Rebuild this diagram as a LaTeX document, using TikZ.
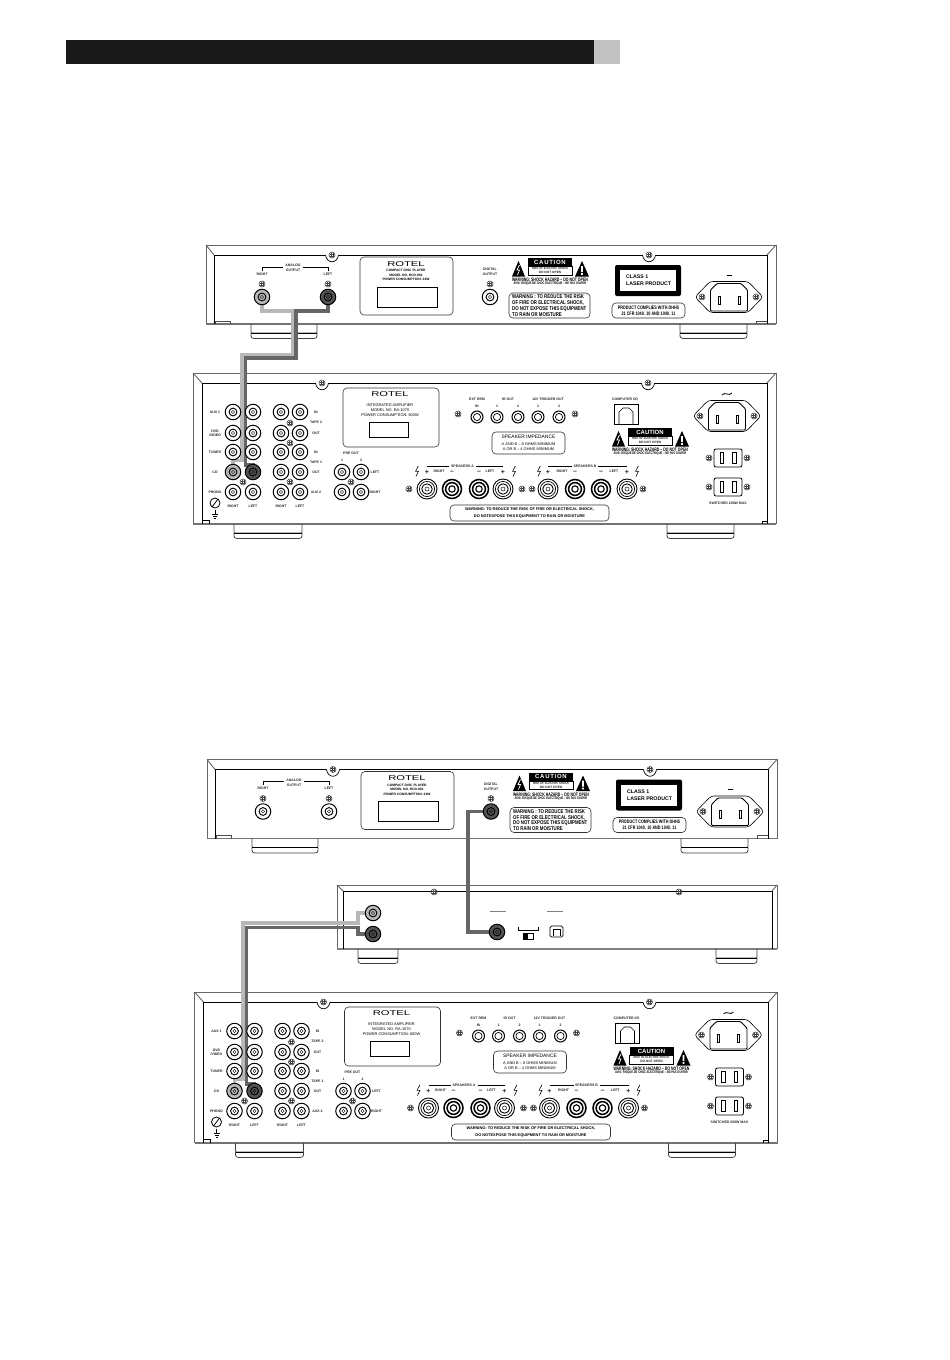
\documentclass[tikz,border=0pt]{standalone}
\usepackage{fontspec}
\usepackage{graphicx}
\setmainfont{Liberation Sans}
\usetikzlibrary{positioning}
\pgfdeclarelayer{jacks}
\pgfsetlayers{main,jacks}
\newcounter{lbl}
\newcommand{\nar}[2][.72]{\scalebox{#1}[1]{#2}}

\tikzset{
panelouter/.style={draw=black!60,line width=.9pt},
panelinner/.style={draw=black,line width=.7pt},
plate/.style={draw=black!80,line width=.6pt,rounded corners=4pt},
legend/.style={inner sep=0,align=center,text=black!85,font=\fontsize{3.5}{4.6}\selectfont\bfseries},
platetext/.style={inner sep=0,align=center,text=black,font=\fontsize{3.9}{5.1}\selectfont},
rca/.style={circle,draw=black,fill=white,line width=1pt,inner sep=0,minimum size=15.5pt},
rcasmall/.style={circle,draw=black,fill=white,line width=1pt,inner sep=0,minimum size=12pt},
rcalight/.style={fill=black!28},
rcadark/.style={fill=black!68},
cablelight/.style={draw=black!28,line width=3.2pt,line join=miter},
cabledark/.style={draw=black!60,line width=3.4pt,line join=miter},
}

\newcommand{\lbl}[4][]{\stepcounter{lbl}\node[legend,#1](lbl\thelbl) at (#2,#3){#4};}
\newcommand{\screw}[2]{
\draw[black!75,line width=.6pt] (#1,#2) circle[radius=3];
\draw[black!75,line width=.45pt] (#1-2.3,#2-1)--(#1+2.3,#2-1) (#1-2.3,#2+1)--(#1+2.3,#2+1) (#1-1,#2-2.3)--(#1-1,#2+2.3) (#1+1,#2-2.3)--(#1+1,#2+2.3);
}
\newcommand{\notch}[2]{
\fill[white] (#1,#2) circle[radius=6.4];
\draw[panelinner] (#1-6.6,#2) .. controls (#1-5,#2+9) and (#1+5,#2+9) .. (#1+6.6,#2);
\screw{#1}{#2}
}
\newcommand{\rca}[4][]{
\begin{pgfonlayer}{jacks}
\node[rca,#1](#2) at (#3,#4){};
\draw[line width=.9pt] (#2.center) circle[radius=3.9];
\draw[line width=.4pt] (#2.center) circle[radius=1.6];
\end{pgfonlayer}
}
\newcommand{\smalljack}[3]{
\node[rcasmall](#1) at (#2,#3){};
\draw[line width=.7pt] (#1.center) circle[radius=3.6];
}
\newcommand{\redpost}[3]{
\node[circle,draw,fill=white,line width=.9pt,inner sep=0,minimum size=20pt](#1) at (#2,#3){};
\draw[line width=.7pt] (#1.center) circle[radius=7.6];
\draw[line width=.9pt] (#1.center) circle[radius=5.2];
\draw[line width=.5pt] (#1.center) circle[radius=2];
}
\newcommand{\blackpost}[3]{
\node[circle,draw,fill=white,line width=1.5pt,inner sep=0,minimum size=19pt](#1) at (#2,#3){};
\draw[line width=1.5pt] (#1.center) circle[radius=6.4];
\draw[line width=1.1pt] (#1.center) circle[radius=3.2];
}
\newcommand{\bolt}[2]{
\draw[line width=.6pt] (#1+1.3,#2-5)--(#1-1.4,#2+.3)--(#1+1.4,#2+.3)--(#1-1,#2+5.5);
}
\newcommand{\panelfoot}[3]{
\draw[black!75,line width=.7pt,rounded corners=1pt] (#1,#3)--(#1,#3+9)--(#2,#3+9)--(#2,#3);
\draw[black,line width=.8pt] (#1,#3+9)--(#2,#3+9);
\draw[black!75,line width=.7pt,rounded corners=1pt] (#1,#3+9)--(#1,#3+13)--(#1+2,#3+14.5)--(#2-2,#3+14.5)--(#2,#3+13)--(#2,#3+9);
}
% xl, xl inner, xr inner, xr, top, top inner, bottom
\newcommand{\panel}[7]{
\draw[panelouter] (#1,#7)--(#1,#5)--(#4,#5)--(#4,#7);
\draw[draw=black!55,line width=1.3pt] (#1,#7)--(#4,#7);
\draw[panelouter] (#1,#5)--(#2,#6) (#4,#5)--(#3,#6);
\draw[panelinner] (#2,#7)--(#2,#6)--(#3,#6)--(#3,#7);
}
\newcommand{\iec}[2]{
\draw[line width=.6pt,rounded corners=3pt] (#1-34,#2)--(#1-19,#2-15.5)--(#1+19,#2-15.5)--(#1+34,#2)--(#1+19,#2+15.5)--(#1-19,#2+15.5)--cycle;
\draw[line width=.9pt,rounded corners=1pt] (#1-12,#2-13.5)--(#1+12,#2-13.5)--(#1+18.5,#2-7)--(#1+18.5,#2+14)--(#1-18.5,#2+14)--(#1-18.5,#2-7)--cycle;
\draw[line width=.6pt] (#1-11,#2-1) rectangle (#1-9,#2+7) (#1+9,#2-1) rectangle (#1+11,#2+7);
\screw{#1-27}{#2}
\screw{#1+27}{#2}
}
\newcommand{\outlet}[2]{
\draw[line width=.8pt,rounded corners=2pt] (#1-14,#2-9) rectangle (#1+14,#2+9);
\draw[line width=.8pt] (#1-8,#2-5.5) rectangle (#1-4.5,#2+5.5) (#1+4.5,#2-5.5) rectangle (#1+8,#2+5.5);
\screw{#1-19}{#2}
\screw{#1+19}{#2}
}
% letter spacing; centre, top of the black box
\newcommand{\cautionblock}[3][0]{
\fill[black] (#2-22,#3) rectangle (#2+22,#3+8.5);
\draw[line width=.5pt] (#2-22,#3+8.5) rectangle (#2+22,#3+17);
\lbl[text=white,font=\fontsize{6}{6}\selectfont\bfseries]{#2}{#3+4.3}{\addfontfeature{LetterSpace=#1}CAUTION}
\lbl[font=\fontsize{3.2}{4}\selectfont\bfseries]{#2}{#3+12.8}{\nar[.85]{RISK OF ELECTRIC SHOCK}\\DO NOT OPEN}
\fill[black] (#2-38,#3+18.5)--(#2-31.5,#3+3)--(#2-25,#3+18.5)--cycle;
\fill[black] (#2+25,#3+18.5)--(#2+32,#3+3)--(#2+39,#3+18.5)--cycle;
\draw[white,line width=.7pt] (#2-30.5,#3+7)--(#2-33,#3+12)--(#2-30.5,#3+12)--(#2-32.5,#3+17);
\fill[white] (#2+31.2,#3+8) rectangle (#2+32.8,#3+14) (#2+31.2,#3+15) rectangle (#2+32.8,#3+16.8);
\lbl[text=black,font=\fontsize{5}{5}\selectfont\bfseries]{#2}{#3+22}{\nar[.7]{WARNING: SHOCK HAZARD – DO NOT OPEN}}
\lbl[text=black,font=\fontsize{3.6}{4}\selectfont\bfseries]{#2}{#3+26}{\nar[.74]{AVIS: RISQUE DE CHOC ELECTRIQUE – NE PAS OUVRIR}}
}
\newcommand{\rotel}[2]{
\lbl[text=black,font=\fontsize{7}{7}\selectfont]{#1}{#2}{\scalebox{1.6}[1]{ROTEL}}
}

\newcommand{\cdplayer}[4]{
\panel{206}{214}{767}{776}{245}{255}{324}
\draw[black!70,line width=.6pt] (215,324)--(215,321)--(230,321)--(230,324) (756,324)--(756,321)--(767,321);
\panelfoot{251}{317}{324}
\panelfoot{680}{747}{324}
\notch{332}{255}
\notch{649}{255}
% analog outputs
\draw[line width=.4pt] (262,270.5)--(262,267)--(283,267) (303,267)--(328,267)--(328,270.5);
\lbl{293}{268}{ANALOG\\OUTPUT}
\lbl{262}{274}{RIGHT}
\lbl{328}{274}{LEFT}
\screw{262}{284}
\screw{328}{284}
\rca[#2]{#1-right}{262}{297}
\rca[#3]{#1-left}{328}{297}
% type plate
\draw[plate] (360,257) rectangle (453,315);
\rotel{406}{264}
\node[platetext,font=\fontsize{3.3}{4.6}\selectfont\bfseries](#1-type) at (406,275){COMPACT DISC PLAYER\\MODEL NO. RCD-961\\POWER CONSUMPTION: 24W};
\draw[line width=.6pt] (377,287) rectangle (437,307);
% digital output
\lbl{490}{272}{DIGITAL\\OUTPUT}
\screw{490}{284}
\rca[#4]{#1-digital}{490}{297}
\cautionblock[12]{550}{258}
\draw[plate] (509,293) rectangle (590,318);
\node[inner sep=0,anchor=west,align=left,font=\fontsize{5.5}{5.8}\selectfont\bfseries](#1-warn) at (512,305.5){\nar[.79]{WARNING : TO REDUCE THE RISK}\\\nar[.79]{OF FIRE OR ELECTRICAL SHOCK,}\\\nar[.79]{DO NOT EXPOSE THIS EQUIPMENT}\\\nar[.79]{TO RAIN OR MOISTURE}};
% laser label
\fill[black,rounded corners=2pt] (615,265) rectangle (681,296);
\fill[white] (620,270) rectangle (676,291);
\node[inner sep=0,anchor=west,align=left,font=\fontsize{5.2}{6.8}\selectfont\bfseries](#1-laser) at (626,280.5){CLASS 1\\LASER PRODUCT};
\draw[plate] (612,303) rectangle (685,318);
\node[inner sep=0,align=center,font=\fontsize{5}{5.8}\selectfont\bfseries](#1-dhhs) at (648.5,310.5){\nar[.75]{PRODUCT COMPLIES WITH DHHS}\\\nar[.75]{21 CFR 1040. 10 AND 1040. 11}};
% mains
\draw[line width=.8pt] (726.5,275)--(731.5,275);
\iec{729}{297}
}

\newcommand{\amplifier}[1]{
\panel{193}{202}{767}{776}{373}{383}{524}
\draw[black,line width=.7pt] (202,524)--(202,520)--(209,520)--(209,524) (762,524)--(762,521)--(767,521);
\panelfoot{234}{302}{524}
\panelfoot{667}{734}{524}
\notch{322}{383}
\notch{648}{383}
% input jacks
\foreach \jx in {233,253,281,300}{
\foreach \jy in {412,433,452,492}{
\rca{#1-j\jx-\jy}{\jx}{\jy}
}}
\rca{#1-j281-472}{281}{472}
\rca{#1-j300-472}{300}{472}
\rca[rcalight]{#1-cdright}{233}{472}
\rca[rcadark]{#1-cdleft}{253}{472}
\lbl{215}{412}{AUX 1}
\lbl{215}{433.5}{DVD\\/VIDEO}
\lbl{215}{452}{TUNER}
\lbl{215}{472}{CD}
\lbl{215}{492}{PHONO}
\lbl{233}{506}{RIGHT}
\lbl{253}{506}{LEFT}
\lbl{281}{506}{RIGHT}
\lbl{300}{506}{LEFT}
\lbl{316}{412}{IN}
\lbl{316}{422}{TAPE 2}
\lbl{316}{433}{OUT}
\lbl{316}{452}{IN}
\lbl{316}{462}{TAPE 1}
\lbl{316}{472}{OUT}
\lbl{316}{492}{AUX 2}
\screw{243}{482}
\screw{290}{423}
\screw{290}{443}
\screw{290}{482}
% pre out
\rca{#1-pre1}{342}{472}
\rca{#1-pre2}{361}{472}
\rca{#1-pre3}{342}{492}
\rca{#1-pre4}{361}{492}
\screw{351}{482}
\lbl{351}{453}{PRE OUT}
\lbl{342}{460}{1}
\lbl{361}{460}{2}
\lbl{375}{472}{LEFT}
\lbl{375}{492}{RIGHT}
% type plate
\draw[plate] (343,388) rectangle (439,447);
\rotel{390}{394}
\node[platetext](#1-type) at (390,410){INTEGRATED AMPLIFIER\\MODEL NO. RA-1070\\POWER CONSUMPTION: 600W};
\draw[line width=.6pt] (369,422) rectangle (408,437);
% remote and trigger
\screw{458}{414}
\screw{575}{414}
\lbl{477}{399}{EXT REM}
\lbl{477}{406}{IN}
\lbl{508}{399}{IR OUT}
\lbl{497}{406}{1}
\lbl{518}{406}{2}
\lbl{548}{399}{12V TRIGGER OUT}
\lbl{538}{406}{1}
\lbl{559}{406}{2}
\smalljack{#1-rem}{477}{417}
\smalljack{#1-ir1}{497}{417}
\smalljack{#1-ir2}{518}{417}
\smalljack{#1-trig1}{538}{417}
\smalljack{#1-trig2}{559}{417}
% computer port
\lbl{625}{399}{COMPUTER I/O}
\draw[line width=.6pt] (614,404) rectangle (638,424);
\draw[line width=.6pt] (619,424)--(619,412)--(623,408)--(629,408)--(633,412)--(633,424);
% impedance
\draw[plate] (492,432) rectangle (565,454);
\node[platetext,font=\fontsize{4.9}{5}\selectfont](#1-imp) at (528.5,437){SPEAKER IMPEDANCE};
\node[platetext,font=\fontsize{3.9}{5.1}\selectfont](#1-ohm) at (528.5,446.5){A AND B -- 8 OHMS MINIMUM\\A OR B -- 4 OHMS MINIMUM};
\cautionblock{650}{428}
% speakers
\screw{409}{489}
\screw{522}{489}
\screw{532}{489}
\screw{643}{489}
\redpost{#1-ared}{427}{489}
\blackpost{#1-ablack}{452}{489}
\blackpost{#1-bblack}{479}{489}
\redpost{#1-bred}{503}{489}
\redpost{#1-cred}{548}{489}
\blackpost{#1-cblack}{575}{489}
\blackpost{#1-dblack}{601}{489}
\redpost{#1-dred}{627}{489}
\bolt{417}{471}
\bolt{514}{471}
\bolt{539}{471}
\bolt{637}{471}
\foreach \px in {427,503,548,627}{\lbl[font=\fontsize{7}{7}\selectfont\bfseries]{\px}{472.5}{+}}
\foreach \px in {452,479,575,601}{\lbl[font=\fontsize{7}{7}\selectfont\bfseries]{\px}{472.5}{--}}
\lbl{439}{471}{RIGHT}
\lbl{490}{471}{LEFT}
\lbl{562}{471}{RIGHT}
\lbl{614}{471}{LEFT}
\draw[line width=.4pt] (427,466.5)--(449,466.5) (476,466.5)--(503,466.5) (548,466.5)--(572,466.5) (598,466.5)--(627,466.5);
\lbl[fill=white]{462.5}{466.5}{SPEAKERS A}
\lbl[fill=white]{585}{466.5}{SPEAKERS B}
\draw[plate] (450,505) rectangle (609,521);
\node[platetext,font=\fontsize{3.9}{6.2}\selectfont\bfseries](#1-warn) at (529.5,513){WARNING: TO REDUCE THE RISK OF FIRE OR ELECTRICAL SHOCK,\\DO NOTEXPOSE THIS EQUIPMENT TO RAIN OR MOISTURE};
% mains
\draw[line width=.8pt] (722,395) .. controls (725,391) and (729,397) .. (732,393);
\iec{727}{416}
\outlet{728}{458}
\outlet{728}{487}
\lbl{728}{503}{SWITCHED 200W MAX}
% ground
\draw[line width=.8pt] (215,503) circle[radius=5];
\draw[line width=.8pt] (212,507)--(218,499);
\draw[line width=.5pt] (215,509.5)--(215,514) (212,514)--(218,514) (213,516)--(217,516) (214,518)--(216,518);
}

\begin{document}
\begin{tikzpicture}[x=1pt,y=-1pt]
\useasboundingbox (0,0) rectangle (950,1360);
\fill[white] (0,0) rectangle (950,1360);

% header bar
\fill[black!90] (66,39.5) rectangle (594,63.5);
\fill[black!24] (594,39.5) rectangle (620,63.5);

% first setup
\cdplayer{cdone}{rcalight}{rcadark}{}
\amplifier{ampone}
\draw[cabledark] (cdone-left.center) |- (296,311) |- (245.2,358) |- (253,465) -- (ampone-cdleft.center);
\draw[cablelight] (cdone-right.center) |- (292.5,311) |- (242,354.6) |- (233,460.5) -- (ampone-cdright.center);

% second setup
\begin{scope}[shift={(1,514.5)}]
\cdplayer{cdtwo}{}{}{rcadark}
\end{scope}

\draw[draw=black!60,line width=.9pt] (337,949)--(337,885)--(777,885)--(777,949);
\draw[draw=black!50,line width=1.5pt] (337,949)--(777,949);
\draw[panelouter] (337,885)--(343,891) (777,885)--(772,891);
\draw[panelinner] (343,949)--(343,891)--(772,891)--(772,949);
\panelfoot{358}{398}{949}
\panelfoot{716}{757}{949}
\screw{434}{892}
\screw{679}{892}
\rca[rcalight]{dac-right}{373}{913}
\rca[rcadark]{dac-left}{373}{934}
\rca[rcadark]{dac-digital}{497}{932}
\draw[black!50,line width=.6pt] (490,911)--(506,911) (547,911)--(563,911);
\draw[line width=.4pt] (518,927)--(518,930.5)--(538,930.5)--(538,927);
\fill[black] (523,933) rectangle (528,939.5);
\draw[line width=.6pt] (523,933) rectangle (533,939.5);
\draw[line width=.7pt,rounded corners=1.5pt] (550,926) rectangle (563,937);
\draw[line width=.5pt] (553,936)--(553,929)--(560,929)--(560,936);

\begin{scope}[shift={(1.5,619)}]
\amplifier{amptwo}
\end{scope}

\draw[cabledark] (cdtwo-digital.center) -| (468,932) -- (dac-digital.center);
\draw[cabledark] (dac-left.center) -| (358,927.5) -| (246.5,1084) -| (amptwo-cdleft.center);
\draw[cablelight] (dac-right.center) -| (358,923) -| (243,1079) -| (amptwo-cdright.center);

\end{tikzpicture}
\end{document}
